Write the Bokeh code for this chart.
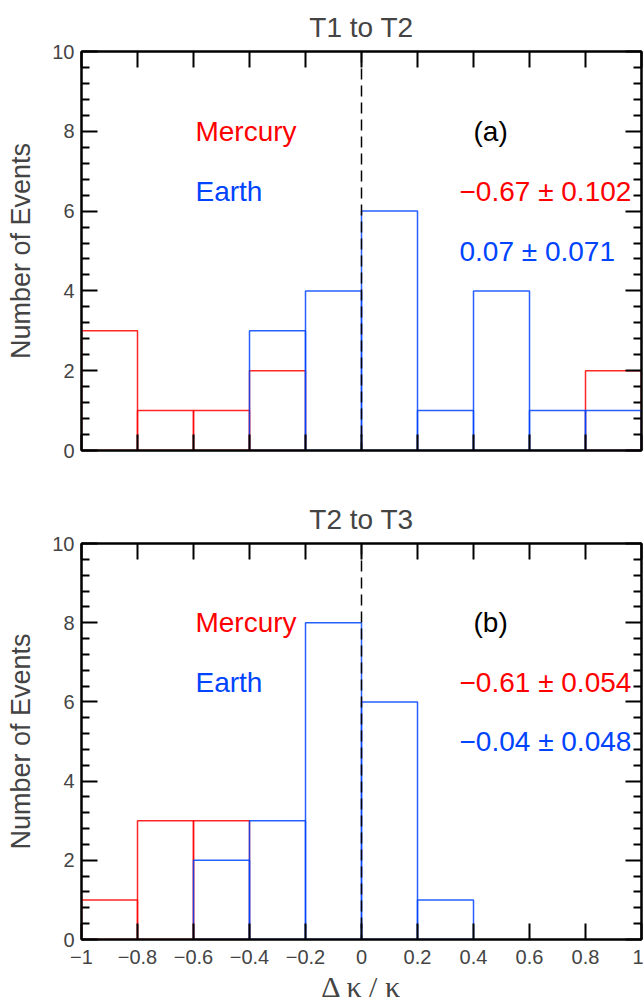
from bokeh.plotting import figure
from bokeh.layouts import column
from bokeh.models import Range1d, FixedTicker, LinearAxis, Span, Label
from bokeh.embed import file_html
from bokeh.resources import INLINE

# ---------------- data ----------------
bin_edges = [-1.0, -0.8, -0.6, -0.4, -0.2, 0.0, 0.2, 0.4, 0.6, 0.8, 1.0]
mercury_a = [3, 1, 1, 2, 0, 0, 0, 0, 0, 2]
earth_a = [0, 0, 0, 3, 4, 6, 1, 4, 1, 1]
mercury_b = [1, 3, 3, 0, 0, 0, 0, 0, 0, 0]
earth_b = [0, 0, 2, 3, 8, 6, 1, 0, 0, 0]

x_ticks = [-1.0, -0.8, -0.6, -0.4, -0.2, 0.0, 0.2, 0.4, 0.6, 0.8, 1.0]
x_tick_labels = ["\u22121", "\u22120.8", "\u22120.6", "\u22120.4", "\u22120.2", "0",
                 "0.2", "0.4", "0.6", "0.8", "1"]
y_ticks = [0, 2, 4, 6, 8, 10]
y_tick_labels = ["0", "2", "4", "6", "8", "10"]

titles = ["T1 to T2", "T2 to T3"]
panel_tags = ["(a)", "(b)"]
mercury_stats = ["\u22120.67 \u00b1 0.102", "\u22120.61 \u00b1 0.054"]
earth_stats = ["0.07 \u00b1 0.071", "\u22120.04 \u00b1 0.048"]
series_names = ["Mercury", "Earth"]
x_label = "\u0394 \u03ba / \u03ba"
y_label = "Number of Events"

RED = "#ff0000"
BLUE = "#0044ff"
SANS = "Liberation Sans"


def style_axis(ax, ticker, labels=None, show_labels=True):
    ax.ticker = ticker
    ax.axis_line_width = 2
    ax.axis_line_color = "black"
    ax.major_tick_in = 16
    ax.major_tick_out = 0
    ax.minor_tick_in = 8
    ax.minor_tick_out = 0
    ax.major_tick_line_width = 2
    ax.minor_tick_line_width = 2
    ax.major_label_text_font = SANS
    if show_labels:
        ax.major_label_text_font_size = "20px"
        if labels is not None:
            ax.major_label_overrides = labels
    else:
        ax.major_label_text_font_size = "0px"
        ax.major_label_standoff = 0
        ax.major_label_overrides = {t: "" for t in ticker.ticks}


def make_panel(idx, merc, earth, show_xlabels, height, top_b, bottom_b):
    p = figure(width=643, height=height, x_range=Range1d(-1, 1), y_range=Range1d(0, 10),
               output_backend="svg", toolbar_location=None,
               min_border_left=81, min_border_right=2,
               min_border_top=top_b, min_border_bottom=bottom_b)
    p.xgrid.visible = False
    p.ygrid.visible = False
    p.outline_line_color = "black"
    p.outline_line_width = 2

    p.title.text = titles[idx]
    p.title.text_font = SANS
    p.title.text_font_size = "28px"
    p.title.text_font_style = "normal"
    p.title.align = "center"
    p.title.standoff = 18

    minor_y = [v / 10 for v in range(0, 101, 4) if v % 20 != 0]
    xt = FixedTicker(ticks=x_ticks, minor_ticks=[])
    yt = FixedTicker(ticks=y_ticks, minor_ticks=minor_y)
    xlab = {t: l for t, l in zip(x_ticks, x_tick_labels)}
    ylab = {t: l for t, l in zip(y_ticks, y_tick_labels)}

    style_axis(p.xaxis[0], xt, xlab, show_xlabels)
    p.xaxis[0].major_label_standoff = 10 if show_xlabels else 0
    style_axis(p.yaxis[0], yt, ylab, True)
    p.yaxis[0].major_label_standoff = 7
    p.yaxis[0].axis_label = y_label
    p.yaxis[0].axis_label_text_font = SANS
    p.yaxis[0].axis_label_text_font_size = "27px"
    p.yaxis[0].axis_label_text_font_style = "normal"
    p.yaxis[0].axis_label_standoff = 13
    if show_xlabels:
        p.xaxis[0].axis_label = x_label
        p.xaxis[0].axis_label_text_font = "Liberation Serif"
        p.xaxis[0].axis_label_text_font_size = "30px"
        p.xaxis[0].axis_label_text_font_style = "normal"
        p.xaxis[0].axis_label_standoff = 3

    top_ax = LinearAxis()
    style_axis(top_ax, FixedTicker(ticks=x_ticks, minor_ticks=[]), None, False)
    p.add_layout(top_ax, "above")
    right_ax = LinearAxis()
    style_axis(right_ax, FixedTicker(ticks=y_ticks, minor_ticks=minor_y), None, False)
    p.add_layout(right_ax, "right")

    for counts, color in ((merc, RED), (earth, BLUE)):
        left = [bin_edges[i] for i, c in enumerate(counts) if c > 0]
        right = [bin_edges[i + 1] for i, c in enumerate(counts) if c > 0]
        top = [c for c in counts if c > 0]
        p.quad(left=left, right=right, top=top, bottom=0, fill_color=None,
               line_color=color, line_width=1.5, line_alpha=0.85)

    p.add_layout(Span(location=0, dimension="height", line_color="black",
                      line_dash="11 6", line_width=1.5))

    def lab(x, y, text, color):
        p.add_layout(Label(x=x, y=y, text=text, text_color=color, text_font=SANS,
                           text_font_size="28px", text_baseline="middle", text_align="left"))

    lab(-0.593, 8.0, series_names[0], RED)
    lab(-0.593, 6.5, series_names[1], BLUE)
    lab(0.40, 8.0, panel_tags[idx], "black")
    lab(0.35, 6.5, mercury_stats[idx], RED)
    lab(0.35, 5.0, earth_stats[idx], BLUE)
    return p


pa = make_panel(0, mercury_a, earth_a, False, 490, 51, 40)
pb = make_panel(1, mercury_b, earth_b, True, 515, 53, 64)

layout = column(pa, pb, spacing=0)
open("out.html", "w").write(file_html(layout, INLINE))
